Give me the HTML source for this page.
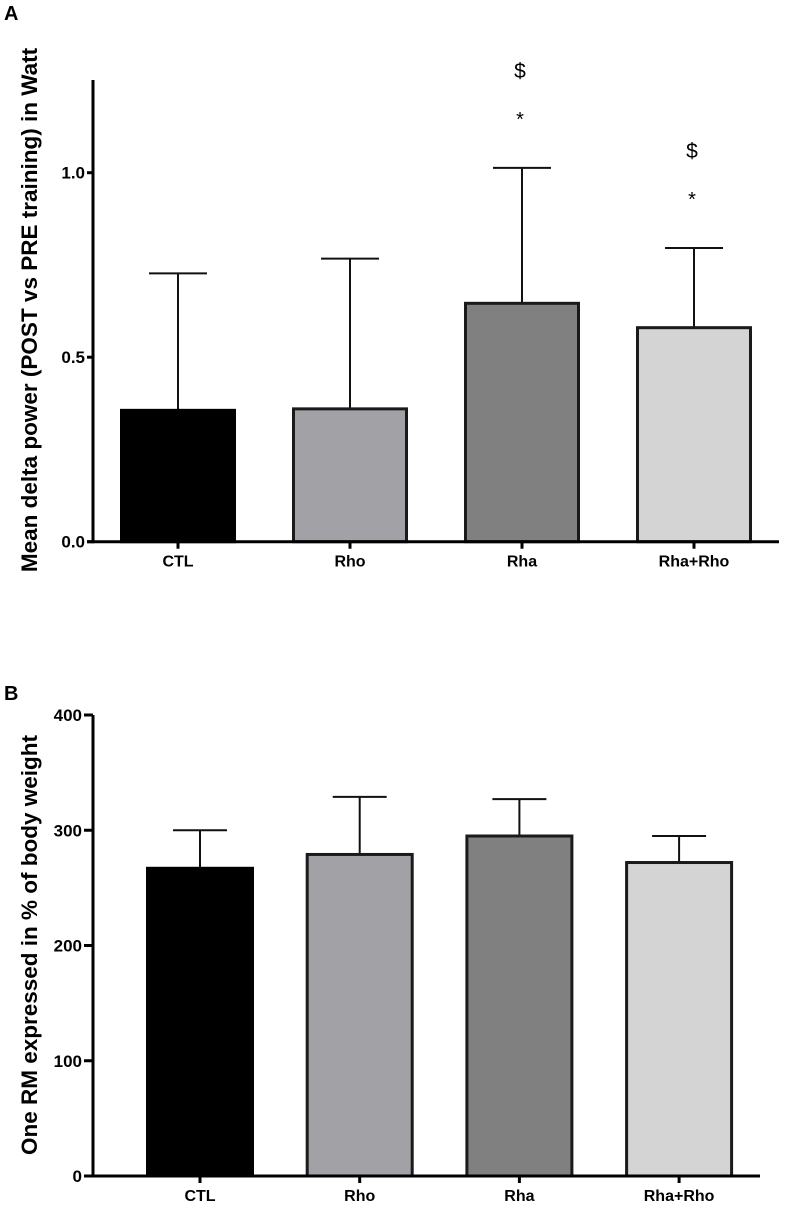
<!DOCTYPE html>
<html><head><meta charset="utf-8"><style>
body{margin:0;background:#fff}
svg{display:block;font-family:"Liberation Sans",Arial,sans-serif}
</style></head><body>
<svg id="svg" width="787" height="1209" viewBox="0 0 787 1209" xmlns="http://www.w3.org/2000/svg">
<text x="4" y="20" font-size="20" font-weight="bold">A</text>
<text x="4" y="700" font-size="20" font-weight="bold">B</text>
<text transform="translate(37,310) rotate(-90)" text-anchor="middle" font-size="22.5" font-weight="bold">Mean delta power (POST vs PRE training) in Watt</text>
<text transform="translate(37,945) rotate(-90)" text-anchor="middle" font-size="22.5" font-weight="bold">One RM expressed in % of body weight</text>
<g id="ga"></g>
<g id="gb"></g>
</svg>
<script>
const categories = ["CTL","Rho","Rha","Rha+Rho"];
const fills = ["#000000","#a2a1a5","#808080","#d4d4d4"];
const valuesA = [0.356, 0.36, 0.646, 0.58];
const errorsA = [0.727, 0.767, 1.013, 0.796];
const ticksA = [0, 0.5, 1.0];
const tickLabelsA = ["0.0","0.5","1.0"];
const annotationsA = ["", "", "$*", "$*"];
const valuesB = [267, 279, 295, 272];
const errorsB = [300, 329, 327, 295];
const ticksB = [0, 100, 200, 300, 400];
const tickLabelsB = ["0","100","200","300","400"];

const NS="http://www.w3.org/2000/svg";
function mk(tag,attrs,parent,txt){const e=document.createElementNS(NS,tag);for(const k in attrs)e.setAttribute(k,attrs[k]);if(txt!==undefined)e.textContent=txt;parent.appendChild(e);return e;}

function drawChart(g, cfg){
  const y = v => cfg.y0 - (v - 0) / cfg.yMax * (cfg.y0 - cfg.yTopVal);
  const x = i => cfg.x0 + cfg.step * i;
  cfg.values.forEach((v,i)=>{
    const cx=x(i), top=y(v), et=y(cfg.errors[i]);
    const el=mk('line',{x1:cx,x2:cx,y1:top,y2:et,stroke:'#111','stroke-width':2},g);
    
    
    const cap=mk('line',{x1:cx-cfg.cap/2,x2:cx+cfg.cap/2,y1:et,y2:et,stroke:'#111','stroke-width':2},g);
    
    
    const r=mk('rect',{x:cx-cfg.bw/2,y:top,width:cfg.bw,height:cfg.y0-top,fill:fills[i],stroke:i===0?'#000':'#1a1a1a','stroke-width':3},g);
    
    
    const tk=mk('line',{x1:cx,x2:cx,y1:cfg.y0,y2:cfg.y0+7,stroke:'#000','stroke-width':3},g);
    
    
    const lb=mk('text',{x:cx,y:cfg.y0+25,'text-anchor':'middle','font-size':16,'font-weight':'bold'},g,categories[i]);
    
    
    if(cfg.ann && cfg.ann[i]){
      const d=mk('text',{x:cx-2,y:y(cfg.errors[i])-cfg.dollarOff,'text-anchor':'middle','font-size':21},g,'$');
      
      
      const s=mk('text',{x:cx-2,y:y(cfg.errors[i])-cfg.starOff,'text-anchor':'middle','font-size':20},g,'*');
      
      
    }
  });
  const ya=mk('line',{x1:cfg.ax,x2:cfg.ax,y1:cfg.axTop,y2:cfg.y0+1.5,stroke:'#000','stroke-width':3},g);
  
  
  const xa=mk('line',{x1:cfg.ax-cfg.tickLen,x2:cfg.axEnd,y1:cfg.y0,y2:cfg.y0,stroke:'#000','stroke-width':3},g);
  
  
  cfg.ticks.forEach((t,k)=>{
    const yy=y(t);
    const tl=mk('line',{x1:cfg.ax-cfg.tickLen,x2:cfg.ax,y1:yy,y2:yy,stroke:'#000','stroke-width':3},g);
    
    
    const tx=mk('text',{x:cfg.ax-cfg.tickLen-2,y:yy+6,'text-anchor':'end','font-size':17,'font-weight':'bold'},g,cfg.tickLabels[k]);
    
    
  });
}
drawChart(document.getElementById('ga'),{id:'a',values:valuesA,errors:errorsA,ticks:ticksA,tickLabels:tickLabelsA,ann:annotationsA,
  y0:541.7,yMax:1.0,yTopVal:172.7,x0:178,step:172,bw:113,cap:58,ax:93,axTop:80,axEnd:779,tickLen:6,dollarOff:90,starOff:42});
drawChart(document.getElementById('gb'),{id:'b',values:valuesB,errors:errorsB,ticks:ticksB,tickLabels:tickLabelsB,
  y0:1176,yMax:400,yTopVal:715,x0:200,step:159.7,bw:105,cap:54,ax:93,axTop:715,axEnd:760,tickLen:9});
</script>
</body></html>
